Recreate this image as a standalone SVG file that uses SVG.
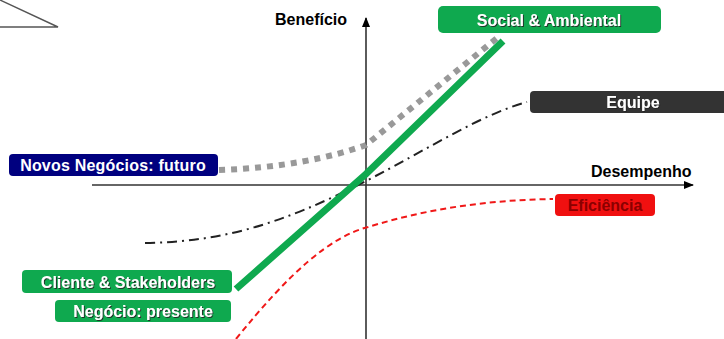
<svg xmlns="http://www.w3.org/2000/svg" width="724" height="339" viewBox="0 0 724 339">
<style>
.lbl{font-family:"Liberation Sans",Arial,sans-serif;font-weight:bold;font-size:16px;fill:#fff;text-anchor:middle}
.ax{font-family:"Liberation Sans",Arial,sans-serif;font-weight:bold;font-size:16px;fill:#000}
.axis{stroke:#333;stroke-width:1.6;fill:none}
.green{fill:#0fa94f}
</style>
<defs>
<filter id="sh" x="-10%" y="-30%" width="120%" height="160%">
<feDropShadow dx="1" dy="1" stdDeviation="0.4" flood-color="#222" flood-opacity="0.9"/>
</filter>
<marker id="arr" viewBox="0 0 10 10" refX="9" refY="5" markerWidth="10" markerHeight="10" markerUnits="userSpaceOnUse" orient="auto">
<path d="M0,1 L10,5 L0,9 Z" fill="#000"/>
</marker>
</defs>
<g id="corner">
<path d="M0,0 L58,27 L0,27" fill="none" stroke="#555" stroke-width="1.4"/>
</g>
<g id="connectors">
<line class="axis" x1="366" y1="339" x2="366" y2="18" marker-end="url(#arr)"/>
<line class="axis" x1="92" y1="185" x2="693" y2="185" marker-end="url(#arr)"/>
<path d="M219,170 C280,168 330,158 366,145 L497,38" fill="none" stroke="#999" stroke-width="6" stroke-dasharray="6,6"/>
<path d="M145,243 C220,242 280,225 366,181 C430,148 480,115 527,102" fill="none" stroke="#222" stroke-width="2" stroke-dasharray="10,5,2,5"/>
<path d="M236,339 C290,272 330,237 368,227 C430,208 490,200 553,199" fill="none" stroke="#f01818" stroke-width="2" stroke-dasharray="6,4"/>
<polyline points="236,289 366,174 503,41" fill="none" stroke="#0fa94f" stroke-width="7"/>
</g>
<g id="beneficio"><text class="ax" x="275" y="25" font-size="18">Benefício</text></g>
<g id="desempenho"><text class="ax" x="591" y="177">Desempenho</text></g>
<g id="social">
<rect x="438" y="6" width="223" height="27" rx="5" class="green"/>
<text class="lbl" x="549" y="26" filter="url(#sh)">Social &amp; Ambiental</text>
</g>
<g id="equipe">
<rect x="530" y="91" width="200" height="22" rx="4" fill="#333"/>
<text class="lbl" x="633" y="108" filter="url(#sh)">Equipe</text>
</g>
<g id="novos">
<rect x="9" y="154" width="209" height="22" rx="4" fill="#00007f"/>
<text class="lbl" x="113" y="171" letter-spacing="0.2">Novos Negócios: futuro</text>
</g>
<g id="eficiencia">
<rect x="555" y="194" width="100" height="22" rx="4" fill="#f01010"/>
<text class="lbl" x="605" y="211" style="fill:#8b0000">Eficiência</text>
</g>
<g id="cliente">
<rect x="22" y="270" width="210" height="23" rx="4" class="green"/>
<text class="lbl" x="128" y="288" filter="url(#sh)">Cliente &amp; Stakeholders</text>
</g>
<g id="negocio">
<rect x="55" y="300" width="176" height="22" rx="4" class="green"/>
<text class="lbl" x="143" y="317" filter="url(#sh)">Negócio: presente</text>
</g>
</svg>
